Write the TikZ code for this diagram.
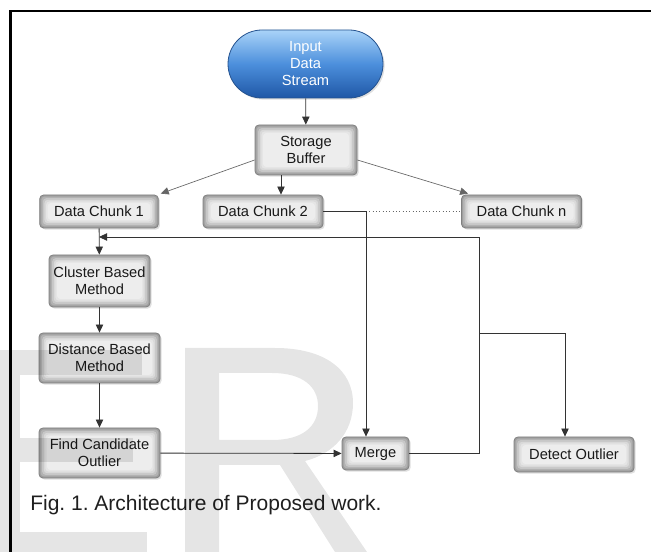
\documentclass[tikz,border=0pt]{standalone}
\usepackage{fontspec}
\setmainfont{Liberation Sans}
\usetikzlibrary{arrows.meta,shapes.misc,shadows,calc}
\definecolor{lineC}{HTML}{333333}
\definecolor{sTop}{HTML}{A9D3F8}
\definecolor{sMid}{HTML}{4C8FDC}
\definecolor{sBot}{HTML}{1F57A6}
\definecolor{sBorder}{HTML}{24528F}
\frenchspacing
\begin{document}
\begin{tikzpicture}[x=0.75pt,y=-0.75pt,
  gbox/.style={rectangle, rounded corners=3pt, draw=black!50, line width=0.6pt,
    fill=black!38, inner sep=0pt, align=center, text=black!90,
    font=\fontsize{11}{12.75}\selectfont,
    drop shadow={shadow xshift=1.2pt, shadow yshift=-1.2pt, opacity=0.25},
    path picture={
      \foreach \d/\c in {1.2/30,2.4/22,3.6/15,4.8/10,6/7}{
        \fill[black!\c, rounded corners=2.5pt]
          ($(path picture bounding box.south west)+(\d pt,\d pt)$) rectangle
          ($(path picture bounding box.north east)-(\d pt,\d pt)$);
      }}},
  streambox/.style={rounded rectangle, draw=sBorder, line width=0.6pt,
    top color=sTop, bottom color=sBot, middle color=sMid,
    minimum width=116.25pt, minimum height=51pt, inner sep=0pt,
    align=center, text=white, font=\fontsize{11}{12.75}\selectfont,
    drop shadow={shadow xshift=1.2pt, shadow yshift=-1.2pt, opacity=0.25}},
  conn/.style={draw=lineC, line width=0.6pt},
  arr/.style={conn, -{Triangle[length=6pt,width=5.5pt]}},
  thinarr/.style={draw=black!60, line width=0.5pt, -{Triangle[length=6pt,width=5.5pt]}}
]
\useasboundingbox (0,0) rectangle (651,552);
\fill[white] (0,0) rectangle (651,552);

% frame
\draw[line width=1.9pt, line join=miter] (10.3,552) -- (10.3,11.2) -- (651,11.2);

% nodes
\node[streambox] (stream) at (305.5,64) {Input\\Data\\Stream};
\node[gbox, minimum width=76.5pt, minimum height=37.5pt] (sb) at (306,150) {Storage\\Buffer};
\node[gbox, minimum width=89pt, minimum height=24.75pt] (dc1) at (99,211.5) {Data Chunk 1};
\node[gbox, minimum width=90pt, minimum height=24.75pt] (dc2) at (263,211.5) {Data Chunk 2};
\node[gbox, minimum width=90pt, minimum height=24.75pt] (dcn) at (521.5,211.5) {Data Chunk n};
\node[gbox, minimum width=75.75pt, minimum height=39pt] (cluster) at (99.5,281) {Cluster Based\\Method};
\node[gbox, minimum width=90.75pt, minimum height=37.5pt] (distance) at (99.5,358) {Distance Based\\Method};
\node[gbox, minimum width=90.75pt, minimum height=37.5pt] (find) at (99.5,453) {Find Candidate\\Outlier};
\node[gbox, minimum width=50.25pt, minimum height=24.75pt] (merge) at (375.5,453.5) {Merge};
\node[gbox, minimum width=90pt, minimum height=26.25pt] (detect) at (574,454.5) {Detect Outlier};

% connectors
\draw[arr] (stream) -- (sb);
\draw[thinarr] ($(sb.west)+(0,10)$) -- ($(dc1.north east)+(2,-1)$);
\draw[thinarr] ($(sb.east)+(0,10)$) -- ($(dcn.north west)+(7,-1)$);
\coordinate (s2) at ($(sb.south)+(-25,0)$);
\draw[arr] (s2) -- (s2 |- dc2.north);

\coordinate (j1) at (366,211.5);
\draw[conn] (dc2.east) -- (j1);
\draw[draw=black!60, line width=0.5pt, dotted] (j1) -- (dcn.west);
\draw[arr] (j1) -- (j1 |- merge.north);

\draw[arr] (dc1) -- (cluster);
\draw[arr] (cluster) -- (distance);
\draw[arr] (distance) -- (find);
\draw[arr] (find) -- (merge);

\coordinate (fb) at (479,237);
\draw[arr] (merge.east) -| (fb) -- (fb -| dc1.south);
\coordinate (jb) at (479,333);
\coordinate (jd) at (565,333);
\draw[arr] (jb) -- (jd) -- (jd |- detect.north);

% caption
\node[anchor=base west, inner sep=0pt, font=\fontsize{15.75}{18}\selectfont, text=black!88] (cap) at (30,511) {Fig. 1. Architecture of Proposed work.};

% watermark
\begin{scope}[fill=black, fill opacity=0.1]
  \fill (0,350) rectangle (20,552);
  \fill (20,350) rectangle (142,375);
  \fill (20,438) rectangle (133,462);
  \fill (20,532) rectangle (147,552);
  \fill[even odd rule]
    (185,552) -- (185,348) -- (275,348)
      .. controls (325,348) and (353,370) .. (353,403)
      .. controls (353,433) and (333,454) .. (305,461)
      -- (367,552) -- (335,552) -- (280,465) -- (219,465) -- (219,552) -- cycle
    (219,373) -- (272,373)
      .. controls (303,373) and (318,387) .. (318,406)
      .. controls (318,427) and (302,440) .. (272,440)
      -- (219,440) -- cycle;
\end{scope}
\end{tikzpicture}
\end{document}
